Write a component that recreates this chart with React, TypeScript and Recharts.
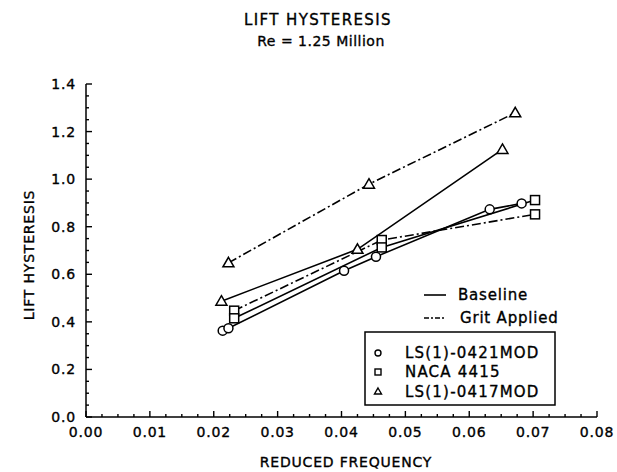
import React from 'react';
import { LineChart, Line, XAxis, YAxis } from 'recharts';

// ---- data ----
const ls0421X = [0.0214, 0.0223, 0.0404, 0.0454, 0.0632, 0.0682];
const ls0421Y = [0.363, 0.373, 0.615, 0.674, 0.873, 0.898];

const nacaBaseX = [0.0232, 0.0463, 0.0703];
const nacaBaseY = [0.415, 0.713, 0.912];
const nacaGritX = [0.0232, 0.0463, 0.0703];
const nacaGritY = [0.447, 0.744, 0.852];

const ls0417BaseX = [0.0212, 0.0425, 0.0652];
const ls0417BaseY = [0.487, 0.705, 1.125];
const ls0417GritX = [0.0223, 0.0443, 0.0672];
const ls0417GritY = [0.648, 0.979, 1.279];

const xTicks = [
  0, 0.0025, 0.005, 0.0075, 0.01, 0.0125, 0.015, 0.0175, 0.02, 0.0225, 0.025, 0.0275,
  0.03, 0.0325, 0.035, 0.0375, 0.04, 0.0425, 0.045, 0.0475, 0.05, 0.0525, 0.055, 0.0575,
  0.06, 0.0625, 0.065, 0.0675, 0.07, 0.0725, 0.075, 0.0775, 0.08,
];
const yTicks = [
  0, 0.05, 0.1, 0.15, 0.2, 0.25, 0.3, 0.35, 0.4, 0.45, 0.5, 0.55, 0.6, 0.65, 0.7,
  0.75, 0.8, 0.85, 0.9, 0.95, 1.0, 1.05, 1.1, 1.15, 1.2, 1.25, 1.3, 1.35, 1.4,
];

const title = 'LIFT HYSTERESIS';
const subtitle = 'Re = 1.25 Million';
const xLabel = 'REDUCED FREQUENCY';
const yLabel = 'LIFT HYSTERESIS';
const airfoilNames = ['LS(1)-0421MOD', 'NACA 4415', 'LS(1)-0417MOD'];
const conditionNames = ['Baseline', 'Grit Applied'];

const zip = (xs: number[], ys: number[]) => xs.map((x, i) => ({ x, y: ys[i] }));

const FONT = '"DejaVu Sans", sans-serif';
const DASHDOT = '9 3 2 3';
const LW = 1.6;
const TS = 0.35; // text stroke for a heavier plotter look

const isMultiple = (v: number, step: number) => Math.abs(v / step - Math.round(v / step)) < 1e-6;

const XTick = (props: any) => {
  const { x, y, payload } = props;
  const major = isMultiple(payload.value, 0.01);
  return (
    <g>
      <line x1={x} y1={y} x2={x} y2={y - (major ? 6 : 3)} stroke="#000" strokeWidth={1.4} />
      {major && (
        <text x={x} y={y + 20} textAnchor="middle" fontFamily={FONT} fontSize={14} letterSpacing={0.8} fill="#000" stroke="#000" strokeWidth={TS}>
          {payload.value.toFixed(2)}
        </text>
      )}
    </g>
  );
};

const YTick = (props: any) => {
  const { x, y, payload } = props;
  const major = isMultiple(payload.value, 0.2);
  return (
    <g>
      <line x1={x} y1={y} x2={x + (major ? 6 : 3)} y2={y} stroke="#000" strokeWidth={1.4} />
      {major && (
        <text x={x - 10} y={y + 5} textAnchor="end" fontFamily={FONT} fontSize={14} letterSpacing={0.8} fill="#000" stroke="#000" strokeWidth={TS}>
          {payload.value.toFixed(1)}
        </text>
      )}
    </g>
  );
};

const CircleDot = (props: any) => {
  const { cx, cy } = props;
  if (cx == null || cy == null) return null;
  return <circle cx={cx} cy={cy} r={4.5} fill="#fff" stroke="#000" strokeWidth={1.5} />;
};
const SquareDot = (props: any) => {
  const { cx, cy } = props;
  if (cx == null || cy == null) return null;
  return <rect x={cx - 4.5} y={cy - 4.5} width={9} height={9} fill="#fff" stroke="#000" strokeWidth={1.5} />;
};
const TriangleDot = (props: any) => {
  const { cx, cy } = props;
  if (cx == null || cy == null) return null;
  return (
    <polygon
      points={`${cx},${cy - 5.5} ${cx + 5.5},${cy + 4} ${cx - 5.5},${cy + 4}`}
      fill="#fff"
      stroke="#000"
      strokeWidth={1.5}
    />
  );
};

export default function App() {
  return (
    <div style={{ position: 'absolute', left: 0, top: 0, width: 617, height: 472, background: '#fff' }}>
      <LineChart width={617} height={472} margin={{ top: 84, right: 20, bottom: 0, left: 0 }}>
        <XAxis
          type="number"
          dataKey="x"
          domain={[0, 0.08]}
          ticks={xTicks}
          interval={0}
          tick={<XTick />}
          tickLine={false}
          tickSize={0}
          tickMargin={0}
          height={55}
          stroke="#000"
          strokeWidth={1.5}
          allowDataOverflow
        />
        <YAxis
          type="number"
          dataKey="y"
          domain={[0, 1.4]}
          ticks={yTicks}
          interval={0}
          tick={<YTick />}
          tickLine={false}
          tickSize={0}
          tickMargin={0}
          width={86}
          stroke="#000"
          strokeWidth={1.5}
          allowDataOverflow
        />
        <Line data={zip(ls0417GritX, ls0417GritY)} dataKey="y" stroke="#000" strokeWidth={LW} strokeDasharray={DASHDOT} dot={<TriangleDot />} isAnimationActive={false} />
        <Line data={zip(ls0417BaseX, ls0417BaseY)} dataKey="y" stroke="#000" strokeWidth={LW} dot={<TriangleDot />} isAnimationActive={false} />
        <Line data={zip(nacaGritX, nacaGritY)} dataKey="y" stroke="#000" strokeWidth={LW} strokeDasharray={DASHDOT} dot={<SquareDot />} isAnimationActive={false} />
        <Line data={zip(nacaBaseX, nacaBaseY)} dataKey="y" stroke="#000" strokeWidth={LW} dot={<SquareDot />} isAnimationActive={false} />
        <Line data={zip(ls0421X, ls0421Y)} dataKey="y" stroke="#000" strokeWidth={LW} dot={<CircleDot />} isAnimationActive={false} />
      </LineChart>
      <svg width={617} height={472} style={{ position: 'absolute', left: 0, top: 0, pointerEvents: 'none' }}>
        <g fontFamily={FONT} fill="#000" stroke="#000" strokeWidth={TS}>
          <text x={318} y={25} textAnchor="middle" fontSize={15} letterSpacing={1.4}>{title}</text>
          <text x={321} y={46} textAnchor="middle" fontSize={14} letterSpacing={0.5}>{subtitle}</text>
          <text x={346} y={467} textAnchor="middle" fontSize={14} letterSpacing={0.8}>{xLabel}</text>
          <text x={34} y={255} textAnchor="middle" fontSize={14} letterSpacing={0.8} transform="rotate(-90 34 255)">{yLabel}</text>
        </g>
        <g fontFamily={FONT} fill="#000">
          {/* condition legend */}
          <line x1={424} y1={295} x2={446} y2={295} stroke="#000" strokeWidth={LW} />
          <text x={458} y={300} fontSize={15} letterSpacing={0.8} stroke="#000" strokeWidth={TS}>{conditionNames[0]}</text>
          <line x1={424} y1={318} x2={446} y2={318} stroke="#000" strokeWidth={LW} strokeDasharray="5 2 2 2" />
          <text x={460} y={323} fontSize={15} letterSpacing={0.8} stroke="#000" strokeWidth={TS}>{conditionNames[1]}</text>
          {/* airfoil legend box */}
          <rect x={365} y={332} width={190} height={73} fill="#fff" stroke="#000" strokeWidth={1.5} />
          <circle cx={378} cy={353} r={3} fill="#fff" stroke="#000" strokeWidth={1.4} />
          <text x={405} y={358} fontSize={15} letterSpacing={1.2} stroke="#000" strokeWidth={TS}>{airfoilNames[0]}</text>
          <rect x={375} y={369} width={6} height={6} fill="#fff" stroke="#000" strokeWidth={1.4} />
          <text x={405} y={377} fontSize={15} letterSpacing={1.2} stroke="#000" strokeWidth={TS}>{airfoilNames[1]}</text>
          <polygon points="378,388 381.5,394 374.5,394" fill="#fff" stroke="#000" strokeWidth={1.4} />
          <text x={405} y={397} fontSize={15} letterSpacing={1.2} stroke="#000" strokeWidth={TS}>{airfoilNames[2]}</text>
        </g>
      </svg>
    </div>
  );
}
